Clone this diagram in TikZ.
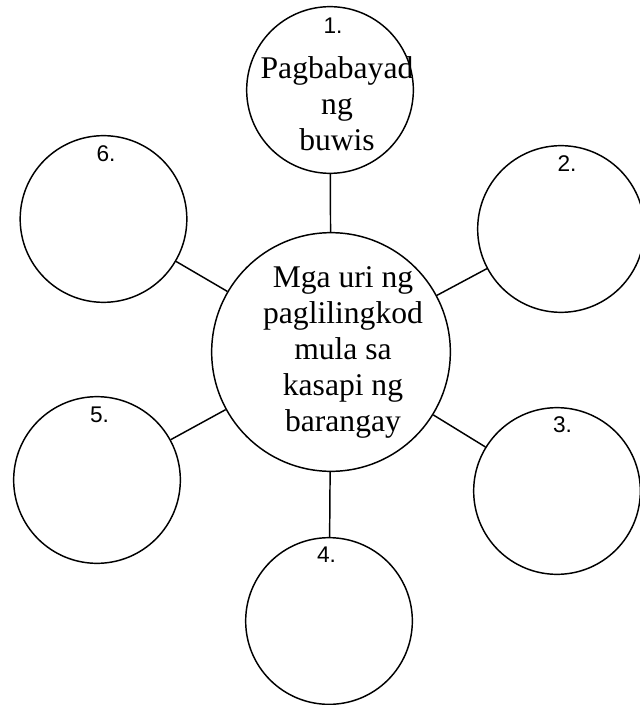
\documentclass[tikz,border=0pt]{standalone}
\usepackage{fontspec}
\setmainfont{Liberation Serif}
\newfontfamily\numfont{Liberation Sans}
\usepackage{tikz}
\tikzset{
slot/.style={draw, circle, line width=1.1pt, minimum size=125pt, inner sep=0pt},
core/.style={draw, circle, line width=1.1pt, minimum size=179pt, inner sep=0pt},
num/.style={font=\numfont\fontsize{17}{20}\selectfont, inner sep=0pt},
says/.style={align=center, inner sep=0pt, font=\fontsize{23.7}{27}\selectfont},
spoke/.style={line width=1.1pt}
}
\usetikzlibrary{calc, positioning}

\begin{document}
\begin{tikzpicture}[x=0.75pt, y=-0.75pt]
			\useasboundingbox (0,0) rectangle (639,705);
			\node[core] (hub) at (331,352) {};
			\node[slot] (c1) at (330,90) {};
			\node[slot] (c2) at (561,229) {};
			\node[slot] (c3) at (557,491) {};
			\node[slot] (c4) at (329,621) {};
			\node[slot] (c5) at (97,480) {};
			\node[slot] (c6) at (103.5,219) {};
			% ----
			\node[says] (hubtext) at ($(hub)+(12,0)$) {Mga uri ng\\paglilingkod\\mula sa\\kasapi ng\\barangay};
			\node[says] (c1text) at ($(c1)+(7,13.5)$) {Pagbabayad\\ng\\buwis};

			\node[num] (n1) at ($(c1)+(3,-64.5)$) {1.};
			\node[num] (n2) at ($(c2)+(6,-65.5)$) {2.};
			\node[num] (n3) at ($(c3)+(5.5,-66)$) {3.};
			\node[num] (n4) at ($(c4)+(-2.5,-66)$) {4.};
			\node[num] (n5) at ($(c5)+(2.5,-65)$) {5.};
			\node[num] (n6) at ($(c6)+(2.5,-65.5)$) {6.};
			% ----
			\draw[spoke] (hub) -- (c1);
			\draw[spoke] (hub) -- (c2);
			\draw[spoke] (hub) -- (c3);
			\draw[spoke] (hub) -- (c4);
			\draw[spoke] (hub) -- (c5);
			\draw[spoke] (hub) -- (c6);
		\end{tikzpicture}
\end{document}
